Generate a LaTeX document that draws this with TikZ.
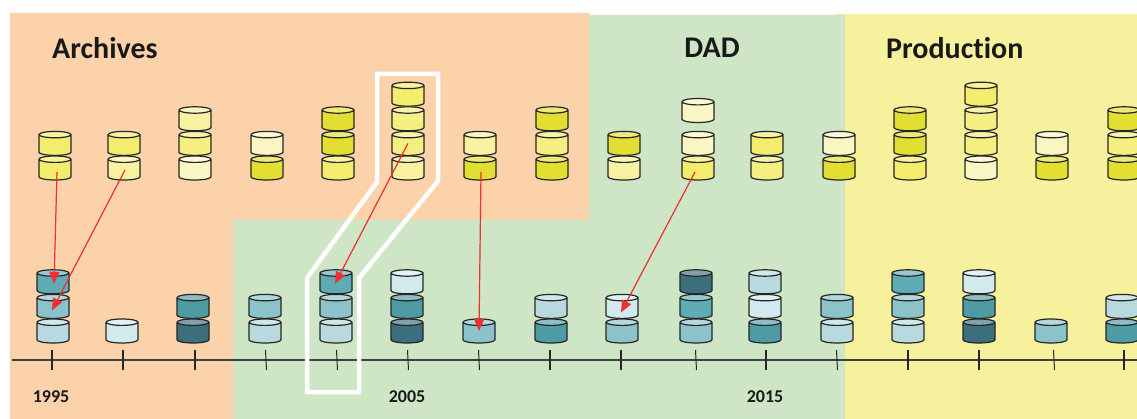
\documentclass[tikz,border=0pt]{standalone}
\usepackage{fontspec}
\setmainfont[Ligatures=NoCommon]{Carlito}
\usetikzlibrary{shapes.geometric, arrows.meta}

\definecolor{peach}{HTML}{FBD2A9}
\definecolor{leaf}{HTML}{CEE6C5}
\definecolor{straw}{HTML}{F7F19D}
\definecolor{ya}{HTML}{FAF6C4}
\definecolor{yb}{HTML}{F7F1A0}
\definecolor{yc}{HTML}{F4EC6C}
\definecolor{yd}{HTML}{E3DF32}
\definecolor{ye}{HTML}{F5EE80}
\definecolor{ta}{HTML}{D2E9ED}
\definecolor{tb}{HTML}{B8DADF}
\definecolor{tc}{HTML}{8CC3CB}
\definecolor{td}{HTML}{5FACB6}
\definecolor{te}{HTML}{4E9BA4}
\definecolor{tf}{HTML}{3D6E7E}
\definecolor{arrowred}{HTML}{EE3030}

\begin{document}
\begin{tikzpicture}[
    x = 1pt,
    y = -1pt,
    disk/.style = {cylinder, shape border rotate=90, draw=black!85, line width=1.2pt,
        inner xsep=16pt, inner ysep=0pt, minimum height=24pt, aspect=0.2, anchor=shape center,
        cylinder uses custom fill, cylinder body fill=#1, cylinder end fill=#1!65!white},
    title/.style = {font=\fontsize{30}{32}\selectfont\bfseries, text=black!90, inner sep=0pt},
    year/.style = {font=\fontsize{18}{20}\selectfont\bfseries, text=black!90, inner sep=0pt},
    link/.style = {-{Triangle[length=12pt, width=10pt]}, line width=1.2pt, draw=arrowred, fill=arrowred},
    tick/.style = {line width=1.4pt, draw=black!85},
    slant/.style = {line width=1pt, draw=black!85}
]

    \clip (0,0) rectangle (1137,419);

    % Periods
    \fill [peach] (10,13) -- (589,13) -- (589,220) -- (233,220) -- (233,419) -- (10,419) -- cycle;
    \fill [straw] (836,14) rectangle (1137,419);
    \fill [leaf] (589,15) -- (845,15) -- (845,419) -- (233,419) -- (233,220) -- (589,220) -- cycle;

    \node [title, anchor=west] (archives) at (52,48) {Archives};
    \node [title] (dad) at (712,48) {DAD};
    \node [title, anchor=west] (production) at (886,48) {Production};

    % Upper stacks
    \foreach \i/\x/\stack in {1/55/{yc,yc}, 2/124/{yb,yc}, 3/195/{ya,ye,yb}, 4/267/{yd,ya},
        5/338/{yc,yd,yd}, 6/408/{yb,ye,ye,yc}, 7/480/{yd,yb}, 8/552/{yd,ye,yd},
        9/624/{yb,yd}, 10/698/{yc,ya}, 11/767/{ye,yc}, 12/839/{yd,ya},
        13/910/{yc,yd,yd}, 14/981/{ya,ye,ye,yc}, 15/1052/{yd,ya}, 16/1124/{yd,ye,yd}}
    {
        \foreach \c [count=\j] in \stack
            \node [disk=\c] (up\i-\j) at (\x,{168-24.6*(\j-1)}) {};
    }
    \node [disk=ya] (up10-3) at (698,110.5) {};

    % Lower stacks
    \foreach \i/\x/\stack in {1/53/{tb,tc,td}, 2/122/{ta}, 3/193/{tf,te}, 4/265/{tb,tc},
        5/336/{tb,tc,td}, 6/407/{tf,te,ta}, 7/479/{tc}, 8/551/{te,tb},
        9/622/{tc,ta}, 10/696/{tc,td,tf}, 11/765/{te,ta,tb}, 12/837/{tb,tc},
        13/908/{tb,tc,td}, 14/979/{tf,te,ta}, 15/1051/{tc}, 16/1122/{te,tb}}
    {
        \foreach \c [count=\j] in \stack
            \node [disk=\c] (low\i-\j) at (\x,{331-24.6*(\j-1)}) {};
    }

    % Time line
    \coordinate (start) at (12,360);
    \coordinate (end) at (1137,360);
    \draw [line width=1.2pt, draw=black!75] (start) -- (end);
    \foreach \x in {52,123,195,550,621,766,908,979,1124}
        \draw [tick] (\x,350) -- (\x,370);
    \foreach \x in {266,337,408,479,696,837,1054}
        \draw [slant] (\x-0.5,350) -- (\x+0.5,370);

    \node [year] (y1995) at (51,397) {1995};
    \node [year] (y2005) at (407,397) {2005};
    \node [year] (y2015) at (765,397) {2015};

    % Highlight
    \draw [white, line width=4.5pt, line join=round] (307,392) -- (307,278) -- (377,182) -- (377,74)
        -- (438,74) -- (438,181) -- (359,278) -- (359,392) -- cycle;

    % Copies
    \draw [link] ([shift={(2,4)}]up1-1.shape center) -- ([shift={(1,2)}]low1-3.shape center);
    \draw [link] ([shift={(1,2)}]up2-1.shape center) -- ([shift={(-1,4)}]low1-2.shape center);
    \draw [link] (up6-2.shape center) -- ([shift={(-1,2)}]low5-3.shape center);
    \draw [link] ([shift={(1,4)}]up7-1.shape center) -- (low7-1.shape center);
    \draw [link] ([shift={(-3,4)}]up10-1.shape center) -- ([shift={(-1,6)}]low9-2.shape center);

\end{tikzpicture}
\end{document}
